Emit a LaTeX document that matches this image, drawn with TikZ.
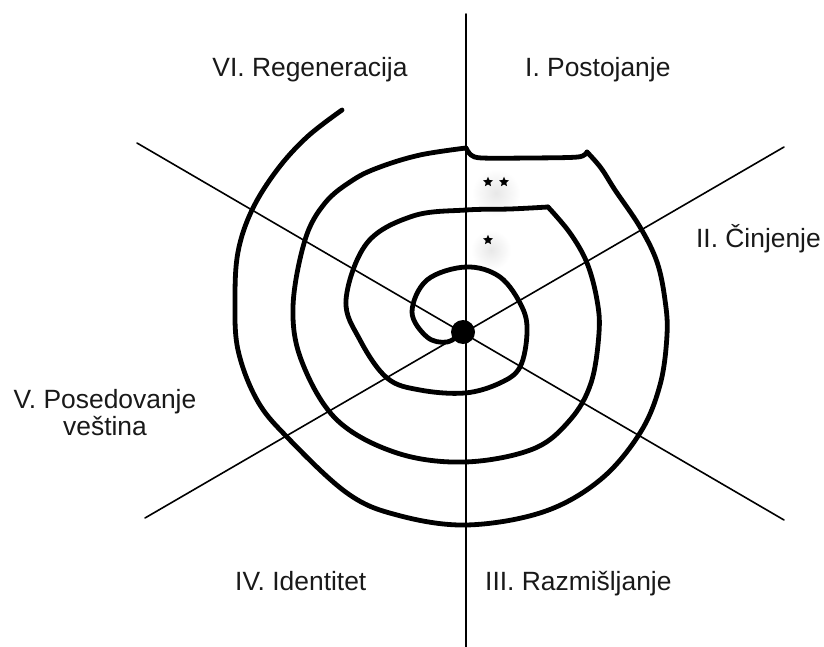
\documentclass[tikz,border=0pt]{standalone}
\usepackage{fontspec}
\setmainfont{Liberation Sans}
\usetikzlibrary{shapes.geometric}
\begin{document}
\begin{tikzpicture}[x=1pt,y=-1pt,
  axis/.style={line width=1.6pt,line cap=round},
  spiral/.style={line width=4.8pt,line cap=round,line join=round},
  lbl/.style={font=\fontsize{26.4}{31}\selectfont,inner sep=0pt,text=black!90},
  starnode/.style={star,star points=5,star point ratio=2.2,fill=black,inner sep=0pt,minimum size=10.5pt}]
\useasboundingbox (0,0) rectangle (824,647);
\fill[white] (0,0) rectangle (824,647);
% glows
\shade[inner color=black!9,outer color=white] (496,193) circle (24);
\shade[inner color=black!9,outer color=white] (491,250) circle (20);
% axes
\coordinate (c) at (463,332);
\coordinate (vt) at (466,14);
\coordinate (vb) at (466,647);
\coordinate (tl) at (137,143);
\coordinate (br) at (784,520);
\coordinate (bl) at (145,518);
\coordinate (tr) at (784,147);
\draw[axis] (vt) -- (vb);
\draw[axis] (tl) -- (br);
\draw[axis] (bl) -- (tr);
% spiral
\draw[spiral] plot[smooth,tension=0.6] coordinates {(463,332) (447,342) (427,337) (412,312) (427,280) (466,267) (500,277) (522,307) (527,333) (520,367) (500,383) (465,393) (420,390) (387,378) (360,340) (346,300) (367,243) (413,216) (466,210) (510,209) (548,207)};
\draw[spiral] plot[smooth,tension=0.6] coordinates {(548,207) (570,233) (587,263) (597,300) (599,333) (591,383) (570,420) (533,449) (465,462) (397,453) (337,420) (302,362) (293,307) (305,240) (325,203) (353,180) (380,167) (420,155) (466,148)};
\draw[spiral] plot[smooth,tension=0.5] coordinates {(466,148) (471,155) (482,158) (530,158) (578,157) (587,152)};
\draw[spiral] plot[smooth,tension=0.6] coordinates {(587,152) (601,168) (615,190) (640,227) (657,262) (665,300) (667,335) (660,385) (640,433) (600,480) (543,512) (466,525) (397,515) (347,493) (287,437) (257,400) (238,350) (235,300) (238,252) (252,210) (277,170) (307,137) (342,110)};
\fill[black] (c) circle (12);
% stars
\node[starnode] (s1) at (488,182) {};
\node[starnode] (s2) at (504,182) {};
\node[starnode] (s3) at (488,240) {};
% labels
\node[lbl,anchor=base] (l6) at (310,77) {VI. Regeneracija};
\node[lbl,anchor=base west] (l1) at (525,77) {I. Postojanje};
\node[lbl,anchor=base east] (l2) at (821,247) {II. Činjenje};
\node[lbl,anchor=base] (l5a) at (105,408) {V. Posedovanje};
\node[lbl,anchor=base] (l5b) at (105,435) {veština};
\node[lbl,anchor=base west] (l4) at (235,590) {IV. Identitet};
\node[lbl,anchor=base west] (l3) at (485,590) {III. Razmišljanje};
\end{tikzpicture}
\end{document}
